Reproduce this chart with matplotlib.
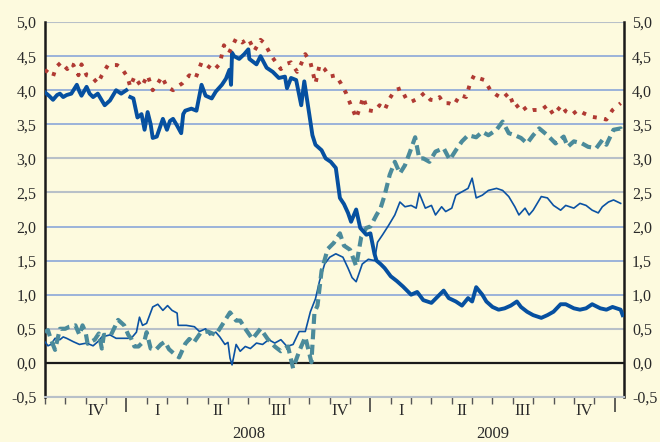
import numpy as np
import matplotlib
matplotlib.use("Agg")
import matplotlib.pyplot as plt
import matplotlib.transforms as mtransforms

# x in months from 1 Sep 2007 (Jan 2008 = 4, Jan 2009 = 16, Jan 2010 = 28)

# thick dark blue line
x_long = [0, 0.2, 0.4, 0.6, 0.74, 0.9, 1.07, 1.3, 1.57, 1.7, 1.8, 2.05, 2.2, 2.37, 2.6, 2.8,
          2.94, 3.2, 3.5, 3.75, 4.0, 4.08, 4.2, 4.35, 4.55, 4.75, 4.9, 5.05, 5.2, 5.3, 5.5, 5.65,
          5.8, 6.0, 6.15, 6.3, 6.5, 6.7, 6.8, 6.9, 7.2, 7.45, 7.7, 7.9, 8.2, 8.4, 8.7, 8.9,
          9.07, 9.15, 9.2, 9.3, 9.55, 9.8, 10.0, 10.05, 10.4, 10.6, 10.9, 11.2, 11.5, 11.8,
          11.9, 12.1, 12.35, 12.6, 12.75, 13.0, 13.15, 13.3, 13.6, 13.8, 14.05, 14.3, 14.5,
          14.7, 14.9, 15.05, 15.3, 15.5, 15.8, 16.0, 16.2, 16.3, 16.5, 16.7, 17.0, 17.3, 17.6,
          18.0, 18.3, 18.6, 19.0, 19.4, 19.6, 19.85, 20.2, 20.5, 20.8, 21.0, 21.2, 21.5, 21.7,
          22.0, 22.3, 22.6, 22.9, 23.2, 23.4, 23.7, 24.0, 24.4, 24.7, 25.0, 25.35, 25.6, 26.0,
          26.3, 26.6, 26.9, 27.3, 27.6, 27.9, 28.3, 28.4]
long_rate = [3.97, 3.92, 3.86, 3.93, 3.95, 3.9, 3.93, 3.95, 4.08, 3.98, 3.92, 4.05, 3.95, 3.9,
             3.95, 3.85, 3.78, 3.85, 4.0, 3.95, 4.0, np.nan, 3.9, 3.88, 3.6, 3.65, 3.42, 3.68,
             3.5, 3.3, 3.32, 3.45, 3.58, 3.42, 3.55, 3.58, 3.48, 3.37, 3.65, 3.7, 3.73, 3.7,
             4.08, 3.92, 3.88, 3.98, 4.08, 4.17, 4.3, 4.08, 4.55, 4.5, 4.46, 4.53, 4.6, 4.46,
             4.38, 4.5, 4.33, 4.27, 4.18, 4.2, 4.03, 4.18, 4.15, 3.78, 4.13, 3.64, 3.34, 3.2,
             3.12, 3.0, 2.95, 2.86, 2.42, 2.33, 2.2, 2.07, 2.25, 1.98, 1.88, 1.9, 1.6, 1.5,
             1.45, 1.39, 1.27, 1.2, 1.12, 1.0, 1.04, 0.92, 0.88, 1.0, 1.06, 0.95, 0.9, 0.84,
             0.95, 0.9, 1.11, 1.0, 0.9, 0.82, 0.78, 0.8, 0.84, 0.9, 0.82, 0.75, 0.7, 0.66,
             0.7, 0.75, 0.86, 0.86, 0.8, 0.78, 0.8, 0.86, 0.8, 0.78, 0.82, 0.78, 0.7]

# thin blue line
x_short = [0, 0.15, 0.3, 0.5, 0.74, 0.9, 1.07, 1.4, 1.7, 2.05, 2.37, 2.6, 2.8, 3.2, 3.5, 3.8,
           4.1, 4.3, 4.5, 4.65, 4.8, 5.0, 5.3, 5.55, 5.8, 6.03, 6.25, 6.5, 6.55, 6.7, 6.95,
           7.35, 7.6, 7.9, 8.1, 8.4, 8.6, 8.85, 9.0, 9.1, 9.2, 9.4, 9.6, 9.85, 10.1, 10.4,
           10.7, 11.0, 11.3, 11.6, 11.9, 12.2, 12.5, 12.8, 13.05, 13.3, 13.5, 13.75, 14.0,
           14.3, 14.65, 14.9, 15.1, 15.3, 15.6, 15.9, 16.2, 16.35, 16.6, 16.9, 17.2, 17.45,
           17.7, 18.0, 18.25, 18.4, 18.7, 19.0, 19.2, 19.5, 19.7, 20.0, 20.2, 20.5, 20.8,
           21.0, 21.2, 21.5, 21.8, 22.2, 22.5, 22.8, 23.1, 23.3, 23.6, 23.8, 24.0, 24.4, 24.7,
           25.0, 25.35, 25.6, 26.0, 26.3, 26.6, 26.9, 27.2, 27.4, 27.7, 27.95, 28.3]
short_rate = [0.31, 0.25, 0.27, 0.36, 0.34, 0.38, 0.36, 0.31, 0.27, 0.29, 0.25, 0.31, 0.38,
              0.41, 0.36, 0.36, 0.36, 0.38, 0.45, 0.67, 0.55, 0.58, 0.82, 0.86, 0.77, 0.84,
              0.77, 0.73, 0.55, 0.55, 0.55, 0.53, 0.46, 0.5, 0.41, 0.45, 0.38, 0.27, 0.3,
              0.07, -0.03, 0.27, 0.17, 0.24, 0.21, 0.29, 0.27, 0.34, 0.29, 0.34, 0.24, 0.27,
              0.46, 0.46, 0.75, 0.94, 1.2, 1.45, 1.55, 1.6, 1.55, 1.39, 1.25, 1.19, 1.45,
              1.52, 1.5, 1.77, 1.88, 2.02, 2.17, 2.36, 2.29, 2.31, 2.27, 2.49, 2.27, 2.31,
              2.17, 2.29, 2.22, 2.27, 2.46, 2.51, 2.56, 2.71, 2.42, 2.46, 2.53, 2.56, 2.53,
              2.44, 2.29, 2.17, 2.27, 2.17, 2.24, 2.44, 2.42, 2.31, 2.24, 2.31, 2.27, 2.34,
              2.31, 2.24, 2.2, 2.29, 2.36, 2.39, 2.34]

# teal dashed line
x_mid = [0, 0.15, 0.3, 0.5, 0.74, 1.0, 1.2, 1.5, 1.7, 1.85, 2.0, 2.1, 2.45, 2.65, 2.8, 2.9,
         3.25, 3.6, 3.9, 4.1, 4.25, 4.4, 4.6, 4.9, 5.0, 5.2, 5.45, 5.7, 5.9, 6.1, 6.4, 6.6,
         6.9, 7.1, 7.3, 7.65, 8.0, 8.4, 8.7, 9.1, 9.4, 9.6, 9.85, 10.2, 10.6, 10.95, 11.3,
         11.6, 11.95, 12.2, 12.5, 12.8, 13.1, 13.25, 13.4, 13.6, 13.9, 14.2, 14.5, 14.7,
         15.0, 15.3, 15.55, 15.8, 16.0, 16.3, 16.5, 16.7, 16.95, 17.2, 17.45, 17.7, 17.95,
         18.2, 18.4, 18.6, 18.9, 19.2, 19.6, 19.9, 20.2, 20.5, 20.8, 21.2, 21.5, 21.8, 22.2,
         22.5, 22.8, 23.1, 23.4, 23.7, 24.0, 24.3, 24.7, 25.1, 25.5, 25.7, 26.0, 26.4, 26.7,
         27.1, 27.4, 27.6, 27.95, 28.3, 28.4]
mid_rate = [0.45, 0.48, 0.34, 0.19, 0.5, 0.5, 0.53, 0.55, 0.41, 0.55, 0.45, 0.28, 0.34, 0.43,
            0.21, 0.41, 0.41, 0.63, 0.55, 0.41, 0.35, 0.24, 0.24, 0.33, 0.45, 0.21, 0.19, 0.27,
            0.31, 0.2, 0.12, 0.08, 0.28, 0.35, 0.29, 0.44, 0.46, 0.41, 0.55, 0.74, 0.62, 0.62,
            0.5, 0.35, 0.5, 0.35, 0.24, 0.17, 0.24, -0.08, 0.17, 0.38, 0.01, 0.74, 0.84, 1.35,
            1.67, 1.76, 1.9, 1.72, 1.66, 1.42, 1.85, 1.98, 2.0, 2.17, 2.27, 2.46, 2.76, 2.95,
            2.78, 2.9, 3.1, 3.31, 3.0, 3.0, 2.95, 3.1, 3.15, 2.98, 3.12, 3.25, 3.34, 3.31,
            3.39, 3.34, 3.42, 3.54, 3.37, 3.34, 3.3, 3.22, 3.34, 3.44, 3.34, 3.22, 3.32, 3.17,
            3.25, 3.22, 3.17, 3.15, 3.27, 3.2, 3.42, 3.44, 3.37]

# dark red dotted line
x_red = [0, 0.2, 0.4, 0.55, 0.8, 1.1, 1.2, 1.4, 1.65, 1.8, 2.05, 2.3, 2.6, 2.8, 3.1, 3.55,
         3.8, 4.05, 4.2, 4.4, 4.75, 5.05, 5.3, 5.55, 5.75, 6.0, 6.3, 6.5, 6.75, 7.1, 7.4, 7.7,
         7.95, 8.3, 8.6, 8.8, 9.05, 9.4, 9.7, 10.0, 10.3, 10.6, 10.8, 11.1, 11.4, 11.6, 11.9,
         12.1, 12.4, 12.6, 12.8, 13.05, 13.3, 13.5, 13.75, 14.0, 14.3, 14.55, 14.8, 15.0,
         15.2, 15.3, 15.5, 15.65, 15.85, 16.2, 16.45, 16.7, 16.95, 17.2, 17.5, 17.75, 18.0,
         18.35, 18.65, 18.95, 19.2, 19.4, 19.6, 19.85, 20.1, 20.4, 20.7, 20.9, 21.1, 21.4,
         21.6, 21.9, 22.2, 22.5, 22.8, 23.1, 23.4, 23.7, 24.0, 24.4, 24.7, 25.0, 25.4, 25.6,
         25.9, 26.2, 26.5, 26.9, 27.3, 27.6, 27.9, 28.1, 28.3]
red_rate = [4.3, 4.25, 4.2, 4.34, 4.41, 4.31, 4.39, 4.37, 4.22, 4.38, 4.22, 4.2, 4.1, 4.22,
            4.37, 4.37, 4.31, 4.2, 4.05, 4.2, 4.05, 4.22, 4.0, 4.1, 4.2, 4.05, 4.0, 4.05, 4.1,
            4.22, 4.17, 4.41, 4.37, 4.29, 4.39, 4.66, 4.55, 4.76, 4.7, 4.76, 4.58, 4.74, 4.69,
            4.52, 4.39, 4.31, 4.39, 4.41, 4.27, 4.39, 4.53, 4.41, 4.1, 4.37, 4.31, 4.2, 4.22,
            4.1, 3.96, 3.81, 3.67, 3.59, 3.76, 3.9, 3.71, 3.69, 3.78, 3.71, 3.88, 4.0, 4.03,
            3.88, 3.83, 3.88, 3.96, 3.86, 3.85, 3.9, 3.81, 3.81, 3.78, 3.93, 3.9, 4.1, 4.22,
            4.17, 4.15, 4.0, 3.93, 3.88, 3.96, 3.74, 3.81, 3.69, 3.71, 3.71, 3.78, 3.64, 3.78,
            3.69, 3.64, 3.71, 3.66, 3.61, 3.59, 3.57, 3.71, 3.76, 3.81]

quarter_labels = ["IV", "I", "II", "III", "IV", "I", "II", "III", "IV"]
quarter_centers = [2.5, 5.5, 8.5, 11.5, 14.5, 17.5, 20.5, 23.5, 26.5]
years = ["2008", "2009"]
year_centers = [10, 22]
y_levels = [-0.5, 0.0, 0.5, 1.0, 1.5, 2.0, 2.5, 3.0, 3.5, 4.0, 4.5, 5.0]

bg = "#fdfade"
grid_blue = "#819fd8"
grid_gray = "#b8c0c8"

fig = plt.figure(figsize=(6.6, 4.42), dpi=100)
fig.patch.set_facecolor(bg)
ax = fig.add_axes([0.068, 0.102, 0.877, 0.848])
ax.set_facecolor(bg)

# horizontal grid lines
gray_levels = [-0.5, 0.5, 2.5, 3.0, 5.0]
for lv in y_levels:
    if lv == 0.0:
        ax.axhline(lv, color="#1a1a1a", lw=1.6, zorder=1)
    elif lv in gray_levels:
        ax.axhline(lv, color=grid_gray, lw=1.5, zorder=1)
    else:
        ax.axhline(lv, color=grid_blue, lw=1.1, zorder=1)

ax.plot(x_short, short_rate, color="#0b52a3", lw=1.2, zorder=3)
ax.plot(x_mid, mid_rate, color="#4b8b9b", lw=3.0, dashes=(2.4, 1.3), zorder=4)
ax.plot(x_long, long_rate, color="#0650a0", lw=2.8, zorder=5)
ax.plot(x_red, red_rate, color="#b03a33", lw=2.8, dashes=(1.0, 1.9), zorder=6)

ax.set_xlim(0, 28.45)
ax.set_ylim(-0.5, 5.0)

ax.set_yticks(y_levels)
ax.set_yticklabels([("%.1f" % v).replace(".", ",") for v in y_levels],
                   fontfamily="Liberation Serif", fontsize=11.5, color="#2a2a2a")
ax.tick_params(axis="y", length=0, pad=6, labelleft=True, labelright=True)

# monthly ticks, long ticks at year boundaries
ax.set_xticks([4, 16, 28])
ax.set_xticks(np.arange(0, 29, 1), minor=True)
ax.tick_params(axis="x", which="major", length=11, width=1.1, color="#333333", labelbottom=False)
ax.tick_params(axis="x", which="minor", length=5, width=1.0, color="#555555")

for sp in ["left", "right"]:
    ax.spines[sp].set_color("#1a1a1a")
    ax.spines[sp].set_linewidth(1.8)
ax.spines["top"].set_visible(False)
ax.spines["bottom"].set_color(grid_gray)
ax.spines["bottom"].set_linewidth(1.5)

trans = mtransforms.blended_transform_factory(ax.transData, fig.transFigure)
for lab, xc in zip(quarter_labels, quarter_centers):
    ax.text(xc, 1 - 411 / 442, lab, transform=trans, ha="center", va="center",
            fontfamily="Liberation Serif", fontsize=12, color="#2a2a2a")
for lab, xc in zip(years, year_centers):
    ax.text(xc, 1 - 434 / 442, lab, transform=trans, ha="center", va="center",
            fontfamily="Liberation Serif", fontsize=12, color="#2a2a2a")

fig.savefig("out.png", dpi=100, facecolor=bg)
